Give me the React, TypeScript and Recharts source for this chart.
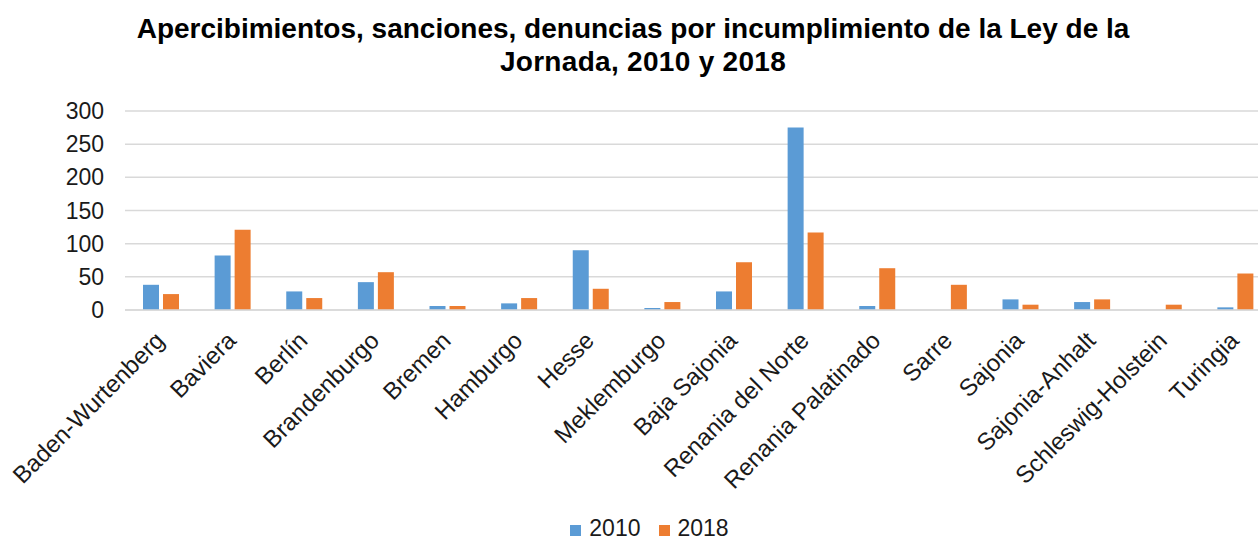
import { Bar, BarChart, CartesianGrid, Legend, XAxis, YAxis } from "recharts";

const states = [
  "Baden-Wurtenberg",
  "Baviera",
  "Berlín",
  "Brandenburgo",
  "Bremen",
  "Hamburgo",
  "Hesse",
  "Meklemburgo",
  "Baja Sajonia",
  "Renania del Norte",
  "Renania Palatinado",
  "Sarre",
  "Sajonia",
  "Sajonia-Anhalt",
  "Schleswig-Holstein",
  "Turingia",
];
const values2010 = [38, 82, 28, 42, 6, 10, 90, 3, 28, 275, 6, 0, 16, 12, 0, 4];
const values2018 = [24, 121, 18, 57, 6, 18, 32, 12, 72, 117, 63, 38, 8, 16, 8, 55];
const yTicks = [0, 50, 100, 150, 200, 250, 300];

const FONT = "'Liberation Sans', Arial, sans-serif";
const BLUE = "#5b9bd5";
const ORANGE = "#ed7d31";

const data = states.map((name, i) => ({
  name,
  y2010: values2010[i],
  y2018: values2018[i],
}));

const StateTick = (props: any) => {
  const { x, y, payload } = props;
  const ax = x + 5;
  const ay = y + 24;
  return (
    <text
      x={ax}
      y={ay}
      textAnchor="end"
      transform={`rotate(-45, ${ax}, ${ay})`}
      fontSize={24}
      fontFamily={FONT}
      fill="#1a1a1a"
    >
      {payload.value}
    </text>
  );
};

const LegendBox = () => (
  <div
    style={{
      height: 40,
      paddingTop: 17,
      boxSizing: "border-box",
      textAlign: "center",
      paddingLeft: 28,
      fontFamily: FONT,
      fontSize: 23,
      lineHeight: "20px",
      color: "#1a1a1a",
    }}
  >
    {[
      { label: "2010", color: BLUE },
      { label: "2018", color: ORANGE },
    ].map((it, i) => (
      <span key={it.label} style={{ marginLeft: i ? 18 : 0 }}>
        <span
          style={{
            display: "inline-block",
            width: 11,
            height: 11,
            background: it.color,
            marginRight: 8,
          }}
        />
        {it.label}
      </span>
    ))}
  </div>
);

export default function App() {
  return (
    <div
      style={{
        position: "absolute",
        left: 0,
        top: 0,
        width: 1258,
        height: 541,
        overflow: "hidden",
        background: "#fff",
      }}
    >
      <div
        style={{
          position: "absolute",
          left: 0,
          top: 12,
          width: 1266,
          textAlign: "center",
          fontFamily: FONT,
          fontWeight: "bold",
          fontSize: 28,
          lineHeight: "33px",
          color: "#000",
        }}
      >
        <div>Apercibimientos, sanciones, denuncias por incumplimiento de la Ley de la</div>
        <div style={{ paddingLeft: 20, letterSpacing: 0.3 }}>Jornada, 2010 y 2018</div>
      </div>
      <div style={{ position: "absolute", left: 0, top: 0 }}>
        <BarChart
          width={1272}
          height={541}
          data={data}
          margin={{ top: 111, right: 1, left: 0, bottom: 0 }}
          barSize={16}
          barGap={4}
        >
          <CartesianGrid vertical={false} stroke="#d9d9d9" strokeWidth={1.5} />
          <XAxis
            dataKey="name"
            interval={0}
            height={191}
            tickLine={false}
            axisLine={{ stroke: "#d9d9d9", strokeWidth: 1.5 }}
            tick={<StateTick />}
          />
          <YAxis
            width={125}
            domain={[0, 300]}
            ticks={yTicks}
            axisLine={false}
            tickLine={false}
            tickMargin={15}
            tick={{ fontSize: 23, fontFamily: FONT, fill: "#1a1a1a" }}
          />
          <Legend verticalAlign="bottom" content={<LegendBox />} />
          <Bar dataKey="y2010" name="2010" fill={BLUE} isAnimationActive={false} />
          <Bar dataKey="y2018" name="2018" fill={ORANGE} isAnimationActive={false} />
        </BarChart>
      </div>
    </div>
  );
}
